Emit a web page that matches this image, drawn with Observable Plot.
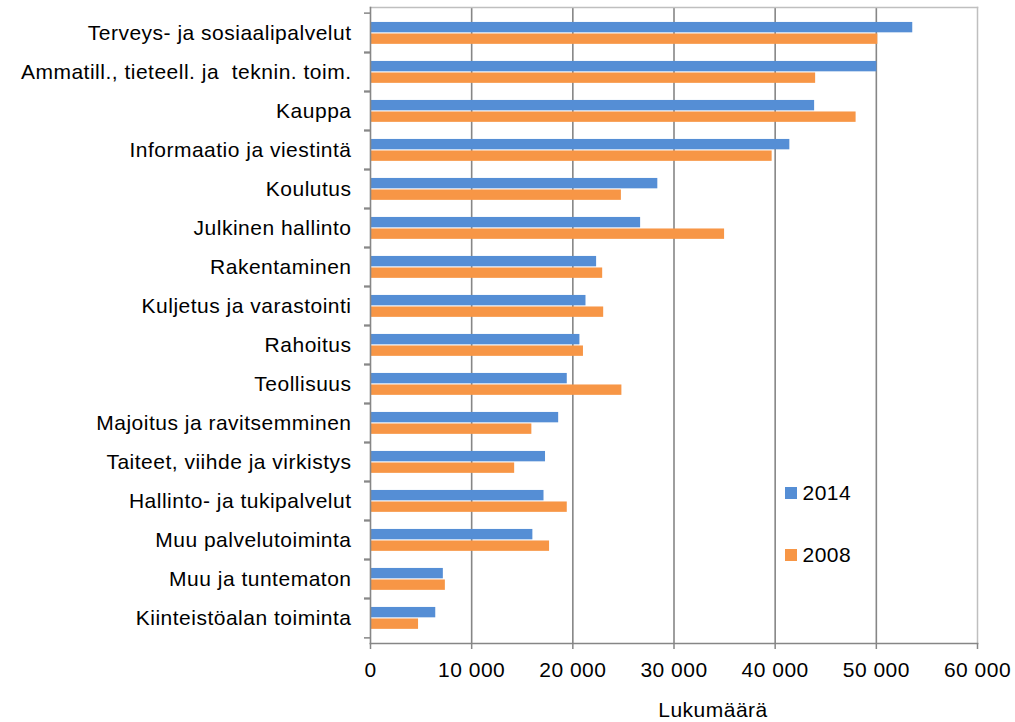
<!DOCTYPE html>
<html>
<head>
<meta charset="utf-8">
<script src="https://cdn.jsdelivr.net/npm/d3@7"></script>
<script src="https://cdn.jsdelivr.net/npm/@observablehq/plot@0.6"></script>
<style>
  html, body { margin: 0; padding: 0; background: #fff; }
  #wrap { position: relative; width: 1015px; height: 722px; font-family: "Liberation Sans", Arial, sans-serif; }
  #wrap svg text { letter-spacing: 0.5px; white-space: pre; }
  .legend { position: absolute; left: 785px; top: 478px; font-size: 21px; letter-spacing: 0.5px; color: #000; }
  .legend .item { display: flex; align-items: center; height: 30px; }
  .legend .item + .item { margin-top: 32px; }
  .legend .sw { width: 11.5px; height: 11.5px; margin-right: 6px; }
</style>
</head>
<body>
<div id="wrap"></div>
<script>
const categories = [
  "Terveys- ja sosiaalipalvelut",
  "Ammatill., tieteell. ja  teknin. toim.",
  "Kauppa",
  "Informaatio ja viestintä",
  "Koulutus",
  "Julkinen hallinto",
  "Rakentaminen",
  "Kuljetus ja varastointi",
  "Rahoitus",
  "Teollisuus",
  "Majoitus ja ravitsemminen",
  "Taiteet, viihde ja virkistys",
  "Hallinto- ja tukipalvelut",
  "Muu palvelutoiminta",
  "Muu ja tuntematon",
  "Kiinteistöalan toiminta"
];
const values2014 = [53600, 50050, 43900, 41450, 28400, 26700, 22350, 21300, 20700, 19450, 18600, 17300, 17150, 16050, 7200, 6450];
const values2008 = [50150, 44000, 48000, 39700, 24800, 35000, 22950, 23050, 21050, 24850, 15950, 14250, 19450, 17700, 7400, 4750];
const years = ["2014", "2008"];
const colors = ["#558ED5", "#F79646"];
const xTicks = [0, 10000, 20000, 30000, 40000, 50000, 60000];
const xLabel = "Lukumäärä";

const rows2014 = categories.map((c, i) => ({category: c, year: "2014", value: values2014[i]}));
const rows2008 = categories.map((c, i) => ({category: c, year: "2008", value: values2008[i]}));

const W = 1015, H = 722, mT = 7, mB = 79, mL = 370, mR = 38;
const step = (H - mT - mB) / categories.length;
const fmt = d => d3.format(",")(d).replace(/,/g, " ");

const chart = Plot.plot({
  width: W, height: H,
  marginLeft: mL, marginRight: mR, marginTop: mT, marginBottom: mB,
  style: {fontFamily: "Liberation Sans, Arial, sans-serif", background: "#fff", color: "#000"},
  x: {domain: [0, 60000]},
  y: {domain: categories, padding: 0},
  color: {domain: years, range: colors},
  marks: [
    Plot.gridX(xTicks.filter(t => t > 0 && t < 60000), {stroke: "#868686", strokeOpacity: 1, strokeWidth: 1.6}),
    Plot.frame({anchor: "top", stroke: "#BFBFBF", strokeWidth: 1.5}),
    Plot.frame({anchor: "right", stroke: "#BFBFBF", strokeWidth: 1.5}),
    Plot.barX(rows2014, {x: "value", y: "category", fill: "year", insetTop: step * 0.225, insetBottom: step * 0.495}),
    Plot.barX(rows2008, {x: "value", y: "category", fill: "year", insetTop: step * 0.515, insetBottom: step * 0.205}),
    Plot.frame({anchor: "left", stroke: "#868686", strokeWidth: 1.6}),
    Plot.frame({anchor: "bottom", stroke: "#868686", strokeWidth: 1.6}),
    Plot.axisY({tickSize: 0, tickPadding: 19, fontSize: 21, label: null}),
    Plot.axisY({tickSize: 6, text: null, dy: -step / 2, stroke: "#868686", strokeWidth: 1.5, label: null}),
    Plot.axisY({tickSize: 6, text: null, dy: step / 2, stroke: "#868686", strokeWidth: 1.5, label: null}),
    Plot.axisX({ticks: xTicks, tickFormat: fmt, tickSize: 6, tickPadding: 13, fontSize: 21, stroke: "#868686", strokeWidth: 1.5, label: null}),
    Plot.text([xLabel], {frameAnchor: "bottom", text: d => d, dx: 39, dy: 73, fontSize: 21})
  ]
});

const wrap = document.getElementById("wrap");
wrap.appendChild(chart);
const legend = document.createElement("div");
legend.className = "legend";
years.forEach((y, i) => {
  const item = document.createElement("div");
  item.className = "item";
  const sw = document.createElement("span");
  sw.className = "sw";
  sw.style.background = colors[i];
  const t = document.createElement("span");
  t.textContent = y;
  item.appendChild(sw); item.appendChild(t);
  legend.appendChild(item);
});
wrap.appendChild(legend);
</script>
</body>
</html>
